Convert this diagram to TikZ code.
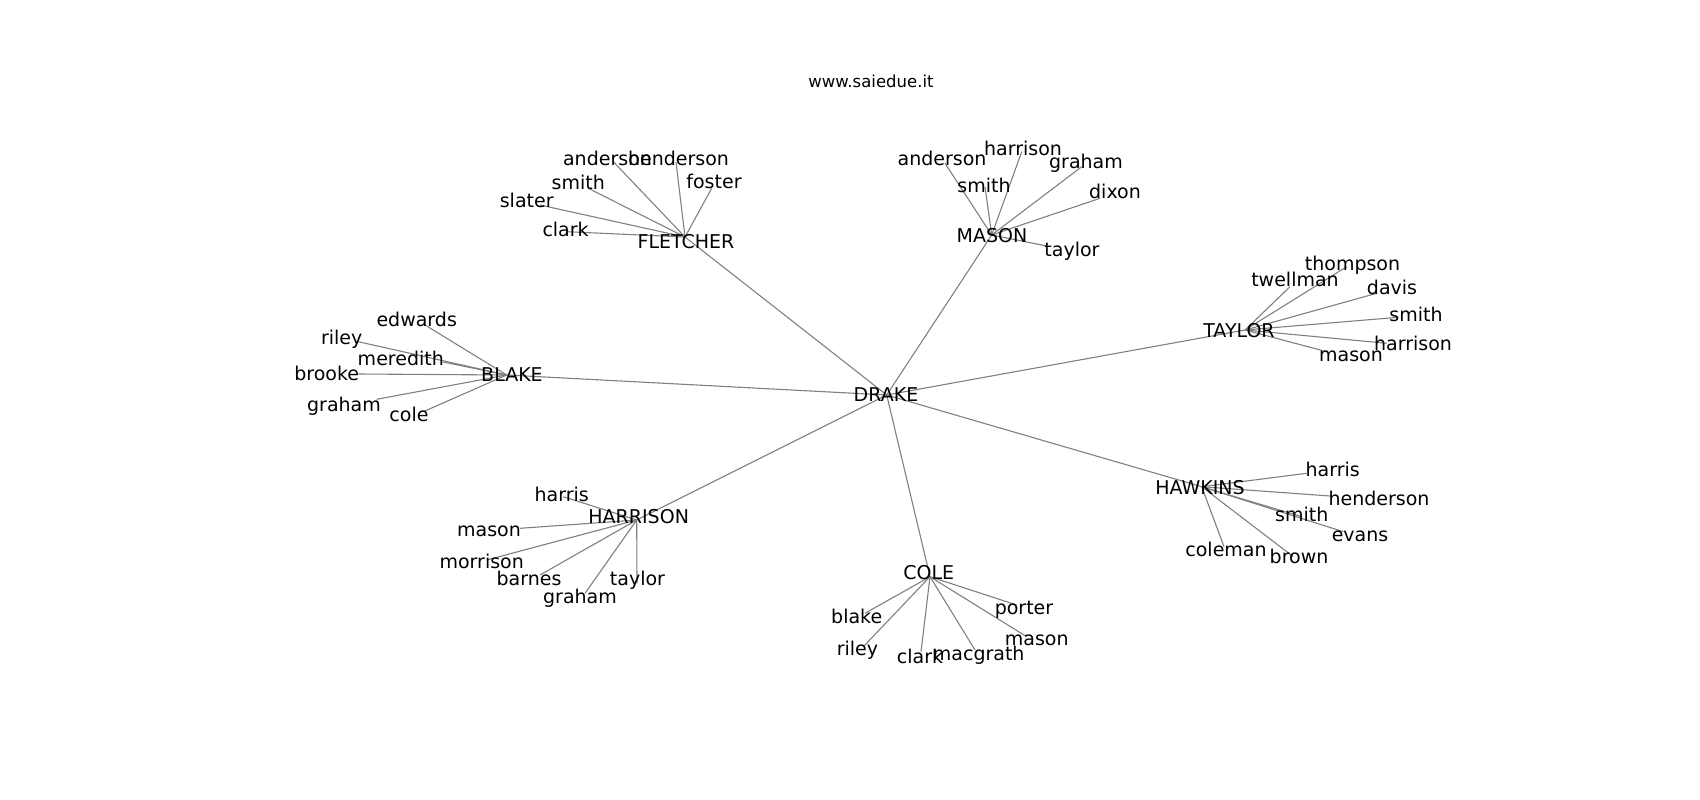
\documentclass[tikz,border=0pt]{standalone}
\usepackage{fontspec}
\setmainfont{DejaVu Sans}
\begin{document}
\begin{tikzpicture}[
  x=1pt, y=-1pt,
  hub/.style={inner sep=0pt, anchor=base, font=\fontsize{19}{22}\selectfont},
  leaf/.style={inner sep=0pt, anchor=base, font=\fontsize{19}{22}\selectfont},
  link/.style={draw=gray, line width=1.1pt},
  heading/.style={inner sep=0pt, anchor=base, font=\fontsize{16.5}{19}\selectfont},
  scale=1
]
\useasboundingbox (0,0) rectangle (1700,800);

% --- Title ---
\node[heading] (title) at (871,87.7) {www.saiedue.it};

% --- Hub positions ---
\coordinate (drake) at (886.7,395);
\coordinate (fletcher) at (685,237);
\coordinate (mason) at (991.7,235);
\coordinate (taylor) at (1245,330);
\coordinate (blake) at (506.7,375);
\coordinate (harrison) at (636.7,520);
\coordinate (cole) at (930,576.7);
\coordinate (hawkins) at (1201.7,486.7);

% --- FLETCHER leaves ---
\coordinate (fl-anderson) at (613.3,161.7);
\coordinate (fl-henderson) at (676,162);
\coordinate (fl-foster) at (711.7,188.3);
\coordinate (fl-smith) at (588.3,188.3);
\coordinate (fl-slater) at (540,205);
\coordinate (fl-clark) at (566.7,231.7);

% --- MASON leaves ---
\coordinate (ma-anderson) at (945,163.3);
\coordinate (ma-harrison) at (1021.7,151.7);
\coordinate (ma-graham) at (1081.7,166.7);
\coordinate (ma-smith) at (985,186.7);
\coordinate (ma-dixon) at (1100,198.3);
\coordinate (ma-taylor) at (1046.7,246);

% --- TAYLOR leaves ---
\coordinate (ta-twellman) at (1290,286.7);
\coordinate (ta-thompson) at (1346.7,266.7);
\coordinate (ta-davis) at (1376.7,293.3);
\coordinate (ta-smith) at (1398.3,317.3);
\coordinate (ta-harrison) at (1386.7,343.3);
\coordinate (ta-mason) at (1326.7,351.7);

% --- BLAKE leaves ---
\coordinate (bl-edwards) at (425,325);
\coordinate (bl-riley) at (358.3,341.7);
\coordinate (bl-meredith) at (443,362);
\coordinate (bl-brooke) at (358.3,374);
\coordinate (bl-graham) at (376.7,399.3);
\coordinate (bl-cole) at (423.3,411.7);

% --- HARRISON leaves ---
\coordinate (ha-harris) at (563.3,496.7);
\coordinate (ha-mason) at (520,528.3);
\coordinate (ha-morrison) at (486.7,560);
\coordinate (ha-barnes) at (540,575);
\coordinate (ha-graham) at (585,593.3);
\coordinate (ha-taylor) at (637,583);

% --- COLE leaves ---
\coordinate (co-blake) at (865,613.3);
\coordinate (co-riley) at (863.3,646.7);
\coordinate (co-clark) at (921,651.7);
\coordinate (co-macgrath) at (975,650);
\coordinate (co-porter) at (1016.7,605);
\coordinate (co-mason) at (1026.7,636.7);

% --- HAWKINS leaves ---
\coordinate (hw-harris) at (1306.7,473.3);
\coordinate (hw-henderson) at (1330,496);
\coordinate (hw-smith) at (1301.7,516.7);
\coordinate (hw-evans) at (1343.3,531.7);
\coordinate (hw-coleman) at (1224,546.7);
\coordinate (hw-brown) at (1293.3,556.7);

% --- Edges: centre ---
\draw[link] (drake) -- (fletcher);
\draw[link] (drake) -- (mason);
\draw[link] (drake) -- (taylor);
\draw[link] (drake) -- (blake);
\draw[link] (drake) -- (harrison);
\draw[link] (drake) -- (cole);
\draw[link] (drake) -- (hawkins);

% --- Edges: leaves ---
\foreach \leaf in {anderson,henderson,foster,smith,slater,clark}
  \draw[link] (fletcher) -- (fl-\leaf);
\foreach \leaf in {anderson,harrison,graham,smith,dixon,taylor}
  \draw[link] (mason) -- (ma-\leaf);
\foreach \leaf in {twellman,thompson,davis,smith,harrison,mason}
  \draw[link] (taylor) -- (ta-\leaf);
\foreach \leaf in {edwards,riley,meredith,brooke,graham,cole}
  \draw[link] (blake) -- (bl-\leaf);
\foreach \leaf in {harris,mason,morrison,barnes,graham,taylor}
  \draw[link] (harrison) -- (ha-\leaf);
\foreach \leaf in {blake,riley,clark,macgrath,porter,mason}
  \draw[link] (cole) -- (co-\leaf);
\foreach \leaf in {harris,henderson,smith,evans,coleman,brown}
  \draw[link] (hawkins) -- (hw-\leaf);

% --- Hub labels ---
\node[hub] (DRAKE) at (886,401.7) {DRAKE};
\node[hub] (FLETCHER) at (686,248) {FLETCHER};
\node[hub] (MASON) at (992,242.7) {MASON};
\node[hub] (TAYLOR) at (1239,337.7) {TAYLOR};
\node[hub] (BLAKE) at (512,381.7) {BLAKE};
\node[hub] (HARRISON) at (638.7,523.3) {HARRISON};
\node[hub] (COLE) at (928.7,579.3) {COLE};
\node[hub] (HAWKINS) at (1200,494) {HAWKINS};

% --- Leaf labels: FLETCHER ---
\node[leaf] (FL1) at (607.5,165) {anderson};
\node[leaf] (FL2) at (678.5,165) {henderson};
\node[leaf] (FL3) at (714,188.3) {foster};
\node[leaf] (FL4) at (578.3,189) {smith};
\node[leaf] (FL5) at (526.7,207) {slater};
\node[leaf] (FL6) at (565.6,236) {clark};

% --- Leaf labels: MASON ---
\node[leaf] (MA1) at (942,165.7) {anderson};
\node[leaf] (MA2) at (1023,155) {harrison};
\node[leaf] (MA3) at (1086,168) {graham};
\node[leaf] (MA4) at (984,192.7) {smith};
\node[leaf] (MA5) at (1115,198.3) {dixon};
\node[leaf] (MA6) at (1072,256.7) {taylor};

% --- Leaf labels: TAYLOR ---
\node[leaf] (TA1) at (1295,286.7) {twellman};
\node[leaf] (TA2) at (1352.5,270) {thompson};
\node[leaf] (TA3) at (1392,294) {davis};
\node[leaf] (TA4) at (1416,321.7) {smith};
\node[leaf] (TA5) at (1413,350) {harrison};
\node[leaf] (TA6) at (1351,361.7) {mason};

% --- Leaf labels: BLAKE ---
\node[leaf] (BL1) at (416.7,326) {edwards};
\node[leaf] (BL2) at (341.7,344) {riley};
\node[leaf] (BL3) at (400.8,365) {meredith};
\node[leaf] (BL4) at (326.7,380) {brooke};
\node[leaf] (BL5) at (344,411.7) {graham};
\node[leaf] (BL6) at (409,421.7) {cole};

% --- Leaf labels: HARRISON ---
\node[leaf] (HA1) at (561.7,501.7) {harris};
\node[leaf] (HA2) at (489,536.7) {mason};
\node[leaf] (HA3) at (481.7,568.3) {morrison};
\node[leaf] (HA4) at (529,585) {barnes};
\node[leaf] (HA5) at (580,603.3) {graham};
\node[leaf] (HA6) at (637.5,585) {taylor};

% --- Leaf labels: COLE ---
\node[leaf] (CO1) at (856.7,623.3) {blake};
\node[leaf] (CO2) at (857.5,655) {riley};
\node[leaf] (CO3) at (920,663.3) {clark};
\node[leaf] (CO4) at (978.7,660) {macgrath};
\node[leaf] (CO5) at (1024,614) {porter};
\node[leaf] (CO6) at (1036.7,645) {mason};

% --- Leaf labels: HAWKINS ---
\node[leaf] (HW1) at (1332.7,476) {harris};
\node[leaf] (HW2) at (1379,505) {henderson};
\node[leaf] (HW3) at (1301.7,521.7) {smith};
\node[leaf] (HW4) at (1360,541.7) {evans};
\node[leaf] (HW5) at (1226,556.7) {coleman};
\node[leaf] (HW6) at (1299,563.3) {brown};

\end{tikzpicture}
\end{document}
